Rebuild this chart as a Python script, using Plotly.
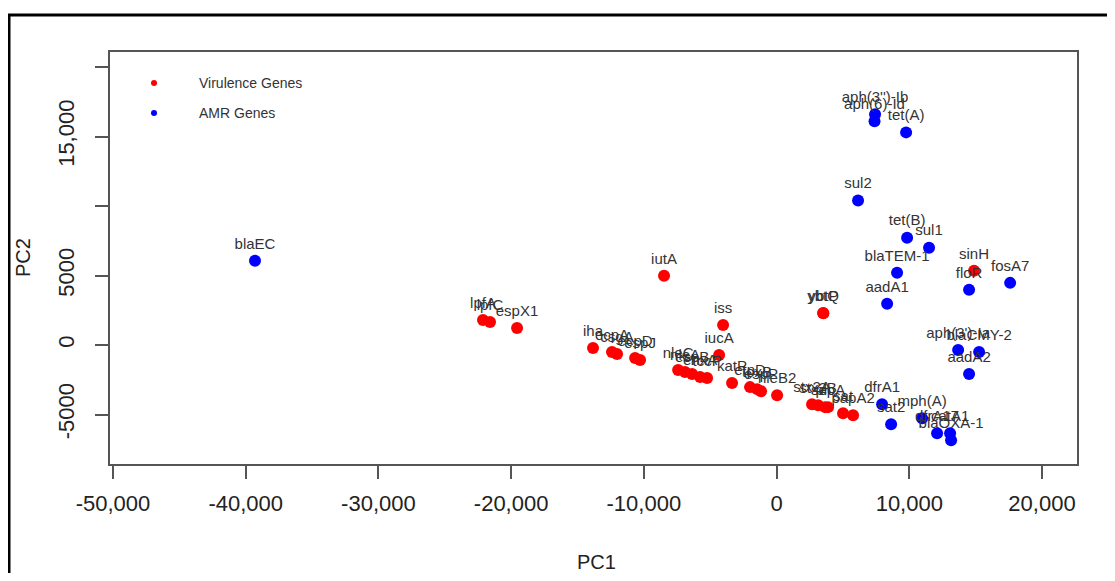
import plotly.graph_objects as go

# ---------------- data ----------------
vir_genes = ["lpfA", "lpfC", "espX1", "iutA", "iss", "ybtQ", "ybtP", "iucA", "iha",
             "ecpA", "csgA", "ecpD", "espJ", "nleC", "nleA", "espB", "ehxA", "tccP",
             "katP", "etpD", "toxB", "espP", "nleB2", "stx2A", "stx2B", "pic", "sepA",
             "sat", "papA2", "sinH"]
vir_pc1 = [-22120, -21590, -19555, -8480, -4030, 3505, 3530, -4330, -13830,
           -12400, -12020, -10660, -10285, -7420, -6895, -6365, -5765, -5235,
           -3355, -2000, -1470, -1170, 40, 2675, 3130, 3655, 3880,
           5010, 5765, 14880]
vir_pc2 = [1800, 1660, 1225, 4980, 1445, 2310, 2280, -720, -215,
           -505, -650, -940, -1080, -1800, -1950, -2090, -2310, -2380,
           -2740, -3030, -3175, -3320, -3610, -4260, -4330, -4470, -4470,
           -4905, -5050, 5340]

amr_genes = ["blaEC", "aph(3'')-Ib", "aph(6)-Id", "tet(A)", "sul2", "tet(B)", "sul1",
             "blaTEM-1", "fosA7", "floR", "aadA1", "aph(3')-Ia", "blaCMY-2", "aadA2",
             "dfrA1", "sat2", "mph(A)", "dfrA17", "catA1", "blaOXA-1"]
amr_pc1 = [-39300, 7420, 7380, 9760, 6140, 9835, 11490,
           9080, 17600, 14505, 8330, 13680, 15260, 14505,
           7950, 8630, 10965, 12095, 13075, 13150]
amr_pc2 = [6060, 16595, 16090, 15296, 10390, 7720, 7000,
           5195, 4470, 3970, 2960, -360, -505, -2090,
           -4260, -5700, -5270, -6350, -6350, -6855]

x_tickvals = [-50000, -40000, -30000, -20000, -10000, 0, 10000, 20000]
x_ticktext = ["-50,000", "-40,000", "-30,000", "-20,000", "-10,000", "0", "10,000", "20,000"]
y_tickvals = [-5000, 0, 5000, 10000, 15000, 20000]
y_ticktext = ["-5000", "0", "5000", "", "15,000", ""]

legend_labels = ["Virulence Genes", "AMR Genes"]
legend_colors = ["#ff0000", "#0000ff"]

FONT = "Liberation Sans, Arial, sans-serif"
OFF = 8  # page body margin in the browser
W, H = 1115 - 2 * OFF, 581 - 2 * OFF
# plot area in screen pixels
SX0, SX1, SY0, SY1 = 110, 1077, 52, 464
ML, MT = SX0 - OFF, SY0 - OFF
MR, MB = W - (SX1 - OFF), H - (SY1 - OFF)
PW, PH = SX1 - SX0, SY1 - SY0


def px_x(p):
    return (p - SX0) / PW


def px_y(p):
    return (SY1 - p) / PH


fig = go.Figure()
for names, xs, ys, col in [(vir_genes, vir_pc1, vir_pc2, legend_colors[0]),
                           (amr_genes, amr_pc1, amr_pc2, legend_colors[1])]:
    fig.add_trace(go.Scatter(
        x=xs, y=ys, text=names, mode="markers+text",
        textposition="top center",
        textfont=dict(family=FONT, size=15, color="#333333"),
        marker=dict(color=col, size=12, line=dict(width=0)),
        showlegend=False, hoverinfo="text+x+y"))

shapes = []
annotations = []
# outer frame
shapes.append(dict(type="rect", xref="paper", yref="paper",
                   x0=px_x(9), x1=px_x(1140), y0=px_y(620), y1=px_y(15),
                   line=dict(color="black", width=3), fillcolor="rgba(0,0,0,0)",
                   layer="above"))
# legend
for i, (lab, col) in enumerate(zip(legend_labels, legend_colors)):
    ly = 83 + 30 * i
    shapes.append(dict(type="circle", xref="paper", yref="paper",
                       xsizemode="pixel", ysizemode="pixel",
                       xanchor=px_x(154), yanchor=px_y(ly),
                       x0=-3, x1=3, y0=-3, y1=3,
                       fillcolor=col, line=dict(width=0)))
    annotations.append(dict(xref="paper", yref="paper", x=px_x(197), y=px_y(ly),
                            text=lab, showarrow=False, xanchor="left", yanchor="middle",
                            font=dict(family=FONT, size=14, color="#333333")))
# axis titles
annotations.append(dict(xref="paper", yref="paper", x=px_x(596), y=px_y(562),
                        text="PC1", showarrow=False, xanchor="center", yanchor="middle",
                        font=dict(family=FONT, size=20, color="#222222")))
annotations.append(dict(xref="paper", yref="paper", x=px_x(23), y=px_y(258),
                        text="PC2", showarrow=False, xanchor="center", yanchor="middle",
                        textangle=-90,
                        font=dict(family=FONT, size=20, color="#222222")))

fig.update_layout(
    width=W, height=H,
    margin=dict(l=ML, r=MR, t=MT, b=MB, pad=0),
    paper_bgcolor="white", plot_bgcolor="white",
    shapes=shapes, annotations=annotations,
    showlegend=False,
    font=dict(family=FONT, color="#222222"),
)
fig.update_xaxes(range=[-50226, 22637], tickvals=x_tickvals, ticktext=x_ticktext,
                 showgrid=False, zeroline=False, showline=True, mirror=True,
                 linecolor="#555555", linewidth=1.5,
                 ticks="outside", ticklen=13, tickwidth=1.5, tickcolor="#555555",
                 ticklabelstandoff=6,
                 tickfont=dict(family=FONT, size=22, color="#222222"))
fig.update_yaxes(range=[-8561, 21079], tickvals=y_tickvals, ticktext=y_ticktext,
                 showgrid=False, zeroline=False, showline=True, mirror=True,
                 linecolor="#555555", linewidth=1.5,
                 ticks="outside", ticklen=13, tickwidth=1.5, tickcolor="#555555",
                 tickangle=-90, ticklabelstandoff=12,
                 tickfont=dict(family=FONT, size=22, color="#222222"))

fig.write_html("out.html")
